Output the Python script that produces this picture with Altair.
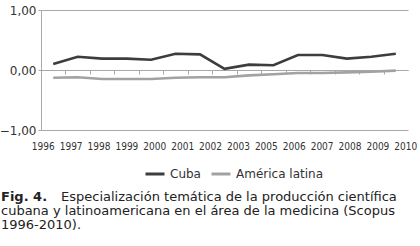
import altair as alt
import pandas as pd

# ---- data ----
x_labels = ["1996", "1997", "1998", "1999", "2000", "2001", "2002", "2003",
            "2005", "2006", "2007", "2008", "2009", "2010"]
point_index = [0, 1, 2, 3, 4, 5, 6, 7, 8, 9, 10, 11, 12, 13, 14]
cuba = [0.10, 0.22, 0.19, 0.19, 0.17, 0.27, 0.26, 0.02, 0.09, 0.08,
        0.25, 0.25, 0.19, 0.22, 0.27]
america_latina = [-0.13, -0.12, -0.15, -0.15, -0.15, -0.13, -0.12, -0.12,
                  -0.09, -0.07, -0.05, -0.05, -0.04, -0.03, -0.01]
series_names = ["Cuba", "América latina"]
series_colors = ["#3d3d3d", "#a2a2a2"]
y_ticks = [-1, 0, 1]
boundary_ticks = [0.5, 1.5, 2.5, 3.5, 4.5, 5.5, 6.5, 7.5, 8.5, 9.5,
                  10.5, 11.5, 12.5, 13.5]
caption_bold = "Fig. 4."
caption_lines = [
    "Especialización temática de la producción científica",
    "cubana y latinoamericana en el área de la medicina (Scopus",
    "1996-2010).",
]

AXIS_GRAY = "#a8a8a8"
FONT = "DejaVu Sans"

rows = []
for name, vals in zip(series_names, [cuba, america_latina]):
    for i, v in zip(point_index, vals):
        rows.append({"idx": i, "value": v, "serie": name})
df = pd.DataFrame(rows)

lines = alt.Chart(df).mark_line(strokeWidth=2.6).encode(
    x=alt.X("idx:Q",
            scale=alt.Scale(domain=[-0.5, 14.5], nice=False, zero=False),
            axis=alt.Axis(orient="bottom", offset=-60, values=boundary_ticks,
                          labels=False, title=None, grid=False,
                          domainColor=AXIS_GRAY, tickColor=AXIS_GRAY,
                          tickSize=4)),
    y=alt.Y("value:Q",
            scale=alt.Scale(domain=[-1, 1], nice=False),
            axis=alt.Axis(values=y_ticks,
                          labelExpr="replace(format(datum.value, '.2f'), '.', ',')",
                          title=None, grid=True, gridColor=AXIS_GRAY,
                          domainColor=AXIS_GRAY, tickColor=AXIS_GRAY,
                          tickSize=3, labelFontSize=12, labelPadding=2,
                          labelFont=FONT, labelColor="#333333")),
    color=alt.Color("serie:N",
                    scale=alt.Scale(domain=series_names, range=series_colors),
                    legend=alt.Legend(orient="none", legendX=103, legendY=153,
                                      direction="horizontal", title=None,
                                      symbolType="stroke", symbolSize=361,
                                      symbolStrokeWidth=3, labelFontSize=12,
                                      labelFont=FONT, labelColor="#333333",
                                      columnPadding=4, labelOffset=4)),
)

labels_df = pd.DataFrame({"label": x_labels})
xlabels = alt.Chart(labels_df).mark_text(
    align="center", baseline="alphabetic", fontSize=10,
    font="DejaVu Sans Condensed, DejaVu Sans", color="#333333"
).encode(
    x=alt.X("label:N",
            scale=alt.Scale(type="point", domain=x_labels, padding=0.08),
            axis=None),
    y=alt.value(140),
    text="label:N",
)

def caption(text, x, y, bold=False):
    return alt.Chart(pd.DataFrame({"t": [text]})).mark_text(
        align="left", baseline="alphabetic", font=FONT, fontSize=13,
        fontWeight="bold" if bold else "normal", color="#222222"
    ).encode(text="t:N", x=alt.value(x), y=alt.value(y))

cap = (caption(caption_bold, -40, 190.5, bold=True)
       + caption(caption_lines[0], 20, 190.5)
       + caption(caption_lines[1], -40, 204.5)
       + caption(caption_lines[2], -40, 218.5))

chart = alt.layer(lines, xlabels, cap).resolve_scale(x="independent").properties(
    width=367, height=120,
    autosize=alt.AutoSizeParams(type="none"),
    padding={"left": 41, "top": 10, "right": 12, "bottom": 116},
).configure_view(stroke=None)

chart.save("out.html", embed_options={"renderer": "svg", "actions": False})
